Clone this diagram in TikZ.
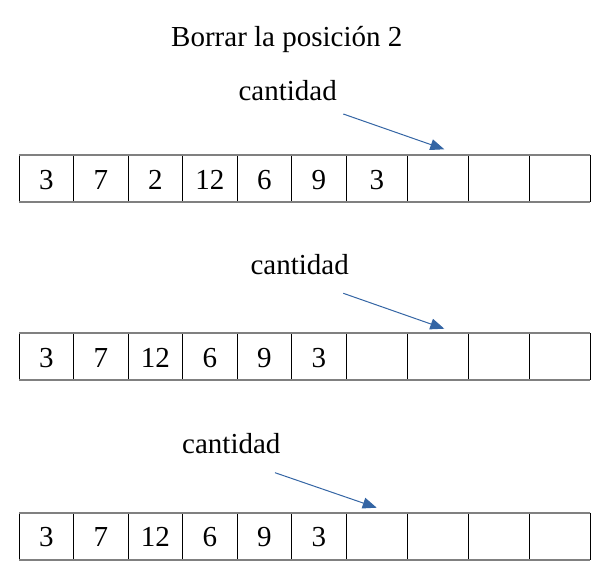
\documentclass[tikz,border=0pt]{standalone}
\usepackage{fontspec}
\setmainfont{Liberation Serif}
\usetikzlibrary{arrows.meta}
\definecolor{arrowblue}{HTML}{3465A4}
\definecolor{rulegray}{HTML}{808080}
\begin{document}
\begin{tikzpicture}[x=1pt,y=-1pt,
  every node/.style={font=\fontsize{29}{34}\selectfont, inner sep=0pt},
  txt/.style={anchor=base},
  hrule/.style={draw=rulegray, line width=1.8pt},
  vrule/.style={draw=black, line width=1pt},
  pointer/.style={draw=arrowblue, line width=1pt, -{Triangle[length=14pt,width=11pt]}}]
\useasboundingbox (0,0) rectangle (606,575);

% grids
\foreach \t in {155,333.3,512.7} {
  \foreach \xx in {19.3,73.3,128.3,182.5,237,291.5,346.3,407.5,468.3,529,590}
    \draw[vrule] (\xx,\t) -- (\xx,\t+47);
  \draw[hrule] (19.3,\t) -- (590,\t);
  \draw[hrule] (19.3,\t+47) -- (590,\t+47);
}

% title
\node[txt] (title) at (286.8,46.7) {Borrar la posición 2};

% row 1
\foreach \v/\c [count=\i] in {3/46.3,7/100.8,2/155.4,12/209.8,6/264.3,9/318.9,3/376.9}
  \node[txt] (a\i) at (\c,189.2) {\v};
% row 2
\foreach \v/\c [count=\i] in {3/46.3,7/100.8,12/155.4,6/209.8,9/264.3,3/318.9}
  \node[txt] (b\i) at (\c,367.5) {\v};
% row 3
\foreach \v/\c [count=\i] in {3/46.3,7/100.8,12/155.4,6/209.8,9/264.3,3/318.9}
  \node[txt] (c\i) at (\c,546.9) {\v};

% labels and pointers
\node[txt] (cant1) at (287.7,101) {cantidad};
\node[txt] (cant2) at (299.7,275) {cantidad};
\node[txt] (cant3) at (231.3,453.5) {cantidad};

\coordinate (s1) at (343.3,114);
\coordinate (e1) at (444.3,149.3);
\coordinate (s2) at (343.3,293.3);
\coordinate (e2) at (444.3,328.7);
\coordinate (s3) at (275,472.7);
\coordinate (e3) at (376.7,507.7);
\draw[pointer] (s1) -- (e1);
\draw[pointer] (s2) -- (e2);
\draw[pointer] (s3) -- (e3);
\end{tikzpicture}
\end{document}
